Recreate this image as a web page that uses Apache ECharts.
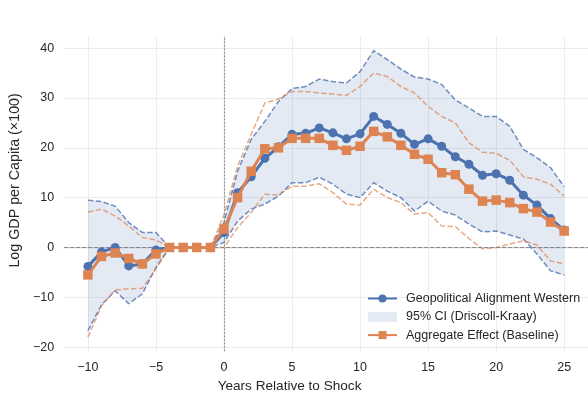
<!DOCTYPE html>
<html>
<head>
<meta charset="utf-8">
<script src="https://cdn.jsdelivr.net/npm/echarts@6/dist/echarts.min.js"></script>
<style>
  html, body { margin: 0; padding: 0; background: #ffffff; }
  #chart { width: 588px; height: 398px; }
</style>
</head>
<body>
<div id="chart"></div>
<script>
// Event time (years relative to the shock)
const years = [-10, -9, -8, -7, -6, -5, -4, -3, -2, -1,
  0, 1, 2, 3, 4, 5, 6, 7, 8, 9, 10, 11, 12, 13, 14, 15, 16, 17, 18, 19, 20, 21, 22, 23, 24, 25];

// Geopolitical Alignment Western: point estimates and 95% CI bounds
const western = [-3.8, -0.9, 0.0, -3.7, -3.3, -0.5, 0, 0, 0, 0,
  3.0, 11.0, 14.2, 17.9, 20.2, 22.7, 22.9, 24.0, 23.0, 21.8, 22.8, 26.3, 24.7, 22.9, 20.7, 21.8,
  20.3, 18.2, 16.7, 14.5, 14.8, 13.5, 10.5, 8.5, 5.8, 3.5];
const westernUpper = [9.5, 9.2, 8.3, 5.0, 3.0, 3.0, 0, 0, 0, 0,
  5.0, 15.3, 21.7, 25.3, 29.3, 31.9, 32.3, 33.8, 33.3, 33.0, 35.3, 39.5, 37.7, 35.8, 34.2, 33.8,
  32.7, 29.6, 28.0, 26.3, 26.3, 24.3, 19.7, 18.0, 16.0, 12.2];
const westernLower = [-16.7, -11.5, -8.7, -11.3, -9.3, -4.0, 0, 0, 0, 0,
  1.0, 5.3, 7.7, 8.7, 10.3, 13.0, 13.0, 14.1, 12.7, 10.7, 10.0, 13.0, 11.3, 10.0, 7.3, 9.3,
  7.3, 6.5, 4.7, 3.1, 3.3, 2.5, 1.7, -1.3, -4.7, -5.5];

// Aggregate Effect (Baseline): point estimates and 95% CI bounds
const baseline = [-5.5, -1.8, -1.1, -2.2, -3.3, -1.3, 0, 0, 0, 0,
  3.7, 10.0, 15.3, 19.8, 20.0, 21.9, 21.9, 21.9, 20.5, 19.5, 20.3, 23.3, 22.2, 20.5, 18.7, 17.7,
  15.0, 14.6, 11.7, 9.3, 9.5, 9.0, 7.8, 7.1, 5.1, 3.3];
const baselineUpper = [7.1, 7.7, 6.3, 4.3, 2.0, 1.5, 0, 0, 0, 0,
  6.5, 16.3, 22.7, 29.0, 29.8, 31.3, 31.3, 31.0, 30.8, 30.5, 32.3, 35.0, 34.3, 32.3, 31.0, 28.3,
  26.3, 25.0, 21.0, 19.1, 18.9, 17.5, 14.2, 13.7, 12.7, 10.3];
const baselineLower = [-18.0, -11.7, -8.5, -8.3, -8.2, -4.3, 0, 0, 0, 0,
  0.0, 4.0, 7.0, 10.7, 10.5, 12.3, 12.3, 12.8, 11.0, 8.7, 8.5, 11.7, 10.0, 9.0, 6.7, 7.0,
  4.3, 4.2, 1.8, -0.3, 0.0, 0.7, 1.3, 0.5, -2.7, -3.3];

// Tick positions
const xTicks = [-10, -5, 0, 5, 10, 15, 20, 25];
const yTicks = [-20, -10, 0, 10, 20, 30, 40];

const BLUE = '#4c72b0';
const ORANGE = '#dd8452';
const BAND = 'rgba(76,114,176,0.15)';
const FONT = 'Liberation Sans, Arial, sans-serif';
const TEXT = '#262626';

const pairs = vals => years.map((t, i) => [t, vals[i]]);
const fmt = v => (v < 0 ? '\u2212' + Math.abs(v) : String(v));

const chart = echarts.init(document.getElementById('chart'), null, { renderer: 'canvas' });

const dashed = (name, vals, color, opacity) => ({
  name: name,
  type: 'line',
  data: pairs(vals),
  symbol: 'none',
  silent: true,
  z: 3,
  lineStyle: { color: color, width: 1.5, type: [5.5, 2.4], opacity: opacity }
});

// Shaded interval: one polygon running along the upper bound and back along the lower bound
function renderBand(params, api) {
  if (params.dataIndex !== 0) return null;
  const pts = [];
  for (let i = 0; i < years.length; i++) pts.push(api.coord([years[i], westernUpper[i]]));
  for (let i = years.length - 1; i >= 0; i--) pts.push(api.coord([years[i], westernLower[i]]));
  return {
    type: 'polygon',
    shape: { points: pts },
    style: { fill: BAND, stroke: 'none' },
    silent: true
  };
}

chart.setOption({
  animation: false,
  backgroundColor: '#ffffff',
  textStyle: { fontFamily: FONT },
  grid: { left: 62, right: -3.4, top: 36.7, bottom: 45.7, containLabel: false },
  xAxis: {
    type: 'value',
    min: -11.75,
    max: 26.75,
    name: 'Years Relative to Shock',
    nameLocation: 'middle',
    nameGap: 26,
    nameTextStyle: { fontSize: 13.6, color: TEXT, fontFamily: FONT, padding: [0, 73, 0, 0] },
    axisLine: { show: true, lineStyle: { color: '#d0d0d0', width: 1.25 } },
    axisTick: { show: false, customValues: xTicks },
    axisLabel: { customValues: xTicks, formatter: fmt, fontSize: 12.5, color: TEXT, fontFamily: FONT, margin: 10 },
    splitLine: { show: true, lineStyle: { color: '#ececec', width: 1 } }
  },
  yAxis: {
    type: 'value',
    min: -20.8,
    max: 42.3,
    name: 'Log GDP per Capita (\u00d7100)',
    nameLocation: 'middle',
    nameGap: 33,
    nameRotate: 90,
    nameTextStyle: { fontSize: 14.3, color: TEXT, fontFamily: FONT, padding: [0, 0, 0, 27] },
    axisLine: { show: true, lineStyle: { color: '#d0d0d0', width: 1.25 } },
    axisTick: { show: false, customValues: yTicks },
    axisLabel: { customValues: yTicks, formatter: fmt, fontSize: 12.5, color: TEXT, fontFamily: FONT, margin: 10 },
    splitLine: { show: true, lineStyle: { color: '#ececec', width: 1 } }
  },
  legend: {
    orient: 'vertical',
    left: 367,
    top: 291,
    padding: 0,
    itemWidth: 29,
    itemHeight: 10,
    itemGap: 3.3,
    textStyle: { fontSize: 12.5, color: TEXT, fontFamily: FONT, lineHeight: 15, padding: [0, 0, 0, 4] },
    data: [
      { name: 'Geopolitical Alignment Western' },
      { name: '95% CI (Driscoll-Kraay)', icon: 'rect', itemStyle: { color: BAND } },
      { name: 'Aggregate Effect (Baseline)' }
    ]
  },
  series: [
    {
      name: '95% CI (Driscoll-Kraay)',
      type: 'custom',
      renderItem: renderBand,
      data: pairs(westernUpper),
      encode: { x: 0, y: 1 },
      silent: true,
      z: 1,
      itemStyle: { color: BAND },
      markLine: {
        silent: true,
        symbol: 'none',
        label: { show: false },
        data: [
          { xAxis: 0, lineStyle: { color: '#8c8c8c', width: 1, type: [1.5, 2] } },
          { yAxis: 0, lineStyle: { color: '#888888', width: 1.2, type: [4, 2] } }
        ]
      }
    },
    dashed('westernUpper', westernUpper, BLUE, 0.8),
    dashed('westernLower', westernLower, BLUE, 0.8),
    dashed('baselineUpper', baselineUpper, ORANGE, 0.7),
    dashed('baselineLower', baselineLower, ORANGE, 0.7),
    {
      name: 'Geopolitical Alignment Western',
      type: 'line',
      data: pairs(western),
      symbol: 'circle',
      symbolSize: 9,
      z: 5,
      itemStyle: { color: BLUE },
      lineStyle: { color: BLUE, width: 3 }
    },
    {
      name: 'Aggregate Effect (Baseline)',
      type: 'line',
      data: pairs(baseline),
      symbol: 'rect',
      symbolSize: 9.5,
      z: 6,
      itemStyle: { color: ORANGE },
      lineStyle: { color: ORANGE, width: 3 }
    }
  ]
});
</script>
</body>
</html>
